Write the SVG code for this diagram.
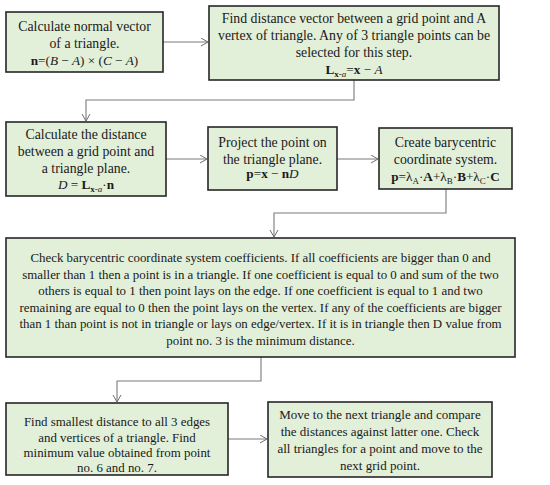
<svg xmlns="http://www.w3.org/2000/svg" width="550" height="485" viewBox="0 0 550 485">
<defs>
<marker id="ah" markerWidth="9" markerHeight="10" refX="8" refY="4.5" orient="auto" markerUnits="userSpaceOnUse">
<path d="M1,0.5 L8,4.5 L1,8.5" fill="none" stroke="#6e6e6e" stroke-width="1"/>
</marker>
<style>
.box{fill:#e2efd9;stroke:#262626;stroke-width:1.6}
.t{font-family:"Liberation Serif","Times New Roman",serif;font-size:13.8px;fill:#1a1a1a;text-anchor:middle}
.s{font-size:12.9px}
.r{font-size:13px}
.m{font-size:13.2px}
.c{fill:none;stroke:#7a7a7a;stroke-width:1.1}
.b{font-weight:bold}
.i{font-style:italic}
.sub{font-size:9px}
</style>
</defs>
<rect width="550" height="485" fill="#ffffff"/>
<g id="connectors">
<path class="c" d="M163,42 H208" marker-end="url(#ah)"/>
<path class="c" d="M354,80 V100 H86 V121" marker-end="url(#ah)"/>
<path class="c" d="M166,159 H207" marker-end="url(#ah)"/>
<path class="c" d="M337,159 H378" marker-end="url(#ah)"/>
<path class="c" d="M446,189 V213 H274 V237" marker-end="url(#ah)"/>
<path class="c" d="M261,357 V381 H117 V402" marker-end="url(#ah)"/>
<path class="c" d="M228,439 H267" marker-end="url(#ah)"/>
</g>
<g id="n1">
<rect class="box" x="6" y="12" width="157" height="60"/>
<text class="t" x="84.5" y="31">Calculate normal vector</text>
<text class="t" x="84.5" y="47.5">of a triangle.</text>
<text class="t m" x="84.5" y="65"><tspan class="b">n</tspan>=(<tspan class="i">B</tspan> − <tspan class="i">A</tspan>) × (<tspan class="i">C</tspan> − <tspan class="i">A</tspan>)</text>
</g>
<g id="n2">
<rect class="box" x="209" y="6" width="290" height="74"/>
<text class="t" x="354" y="22.5">Find distance vector between a grid point and A</text>
<text class="t" x="354" y="40">vertex of triangle. Any of 3 triangle points can be</text>
<text class="t" x="354" y="57">selected for this step.</text>
<text class="t m" x="354" y="74"><tspan class="b">L</tspan><tspan class="sub" dy="3"><tspan class="b">x</tspan>-<tspan class="i">a</tspan></tspan><tspan dy="-3">=</tspan><tspan class="b">x</tspan> − <tspan class="i">A</tspan></text>
</g>
<g id="n3">
<rect class="box" x="6" y="122" width="160" height="74"/>
<text class="t" x="86" y="139">Calculate the distance</text>
<text class="t" x="86" y="155.5">between a grid point and</text>
<text class="t" x="86" y="172.5">a triangle plane.</text>
<text class="t m" x="86" y="189"><tspan class="i">D</tspan> = <tspan class="b">L</tspan><tspan class="sub" dy="3"><tspan class="b">x</tspan>-<tspan class="i">a</tspan></tspan><tspan dy="-3">·</tspan><tspan class="b">n</tspan></text>
</g>
<g id="n4">
<rect class="box" x="208" y="127" width="129" height="63"/>
<text class="t" x="272.5" y="147">Project the point on</text>
<text class="t" x="272.5" y="163.5">the triangle plane.</text>
<text class="t m" x="272.5" y="177.5"><tspan class="b">p</tspan>=<tspan class="b">x</tspan> − <tspan class="b">n</tspan><tspan class="i">D</tspan></text>
</g>
<g id="n5">
<rect class="box" x="379" y="128" width="133" height="61"/>
<text class="t" x="445.5" y="147">Create barycentric</text>
<text class="t" x="445.5" y="164">coordinate system.</text>
<text class="t m" x="445.5" y="181"><tspan class="b">p</tspan>=λ<tspan class="sub" dy="3">A</tspan><tspan dy="-3">·</tspan><tspan class="b">A</tspan>+λ<tspan class="sub" dy="3">B</tspan><tspan dy="-3">·</tspan><tspan class="b">B</tspan>+λ<tspan class="sub" dy="3">C</tspan><tspan dy="-3">·</tspan><tspan class="b">C</tspan></text>
</g>
<g id="n6">
<rect class="box" x="6" y="238" width="509" height="119"/>
<text class="t s" x="260.5" y="262">Check barycentric coordinate system coefficients. If all coefficients are bigger than 0 and</text>
<text class="t s" x="260.5" y="278.5">smaller than 1 then a point is in a triangle. If one coefficient is equal to 0 and sum of the two</text>
<text class="t s" x="260.5" y="295">others is equal to 1 then point lays on the edge. If one coefficient is equal to 1 and two</text>
<text class="t s" x="260.5" y="311.5">remaining are equal to 0 then the point lays on the vertex. If any of the coefficients are bigger</text>
<text class="t s" x="260.5" y="328">than 1 than point is not in triangle or lays on edge/vertex. If it is in triangle then D value from</text>
<text class="t s" x="260.5" y="345">point no. 3 is the minimum distance.</text>
</g>
<g id="n7">
<rect class="box" x="6" y="403" width="222" height="72"/>
<text class="t s" x="117" y="426">Find smallest distance to all 3 edges</text>
<text class="t s" x="117" y="441.5">and vertices of a triangle. Find</text>
<text class="t s" x="117" y="457">minimum value obtained from point</text>
<text class="t s" x="117" y="472">no. 6 and no. 7.</text>
</g>
<g id="n8">
<rect class="box" x="268" y="402" width="224" height="75"/>
<text class="t r" x="380" y="419">Move to the next triangle and compare</text>
<text class="t r" x="380" y="436">the distances against latter one. Check</text>
<text class="t r" x="380" y="453">all triangles for a point and move to the</text>
<text class="t r" x="380" y="470">next grid point.</text>
</g>
</svg>
